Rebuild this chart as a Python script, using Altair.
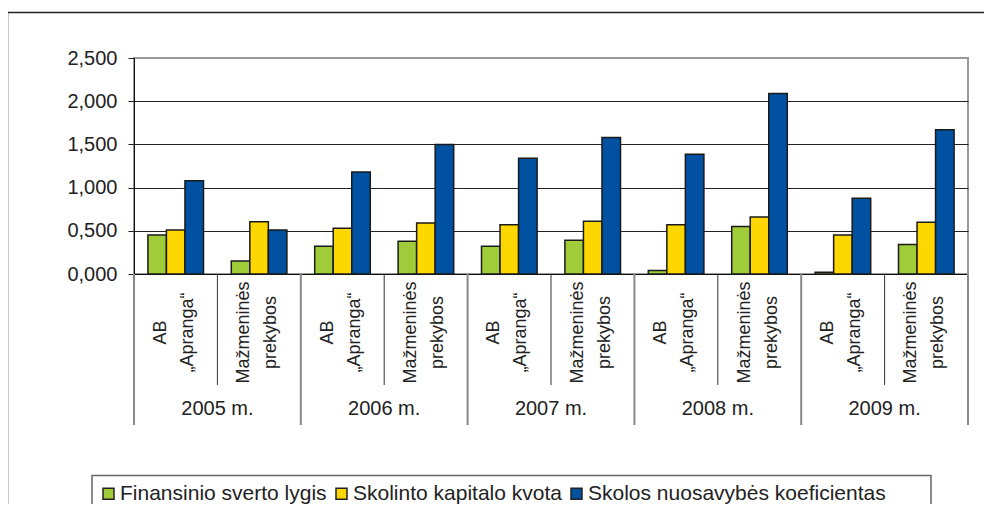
import altair as alt
import pandas as pd

# ---- data ----
years = ["2005 m.", "2006 m.", "2007 m.", "2008 m.", "2009 m."]
companies = ["AB „Apranga“", "Mažmeninės prekybos"]
series = ["Finansinio sverto lygis", "Skolinto kapitalo kvota", "Skolos nuosavybės koeficientas"]
colors = ["#a0cc3a", "#ffd700", "#0051a1"]

finansinio = [0.45, 0.15, 0.32, 0.38, 0.32, 0.39, 0.04, 0.55, 0.02, 0.34]
skolinto = [0.51, 0.605, 0.53, 0.59, 0.57, 0.61, 0.57, 0.66, 0.45, 0.60]
skolos = [1.08, 0.51, 1.18, 1.50, 1.34, 1.58, 1.385, 2.09, 0.876, 1.67]
y_ticks = [0, 0.5, 1.0, 1.5, 2.0, 2.5]

# ---- tables ----
cats = [f"{y}|{c}" for y in years for c in companies]
rows = []
for s, vals in zip(series, [finansinio, skolinto, skolos]):
    for c, v in zip(cats, vals):
        rows.append({"cat": c, "series": s, "value": v})
bars_df = pd.DataFrame(rows)
year_df = pd.DataFrame({"cat": [f"{y}|{companies[0]}" for y in years], "year": years})
inner_df = pd.DataFrame({"cat": [f"{y}|{companies[1]}" for y in years]})
one_df = pd.DataFrame({"a": [0]})

W, H = 834, 216

x_scale = alt.Scale(domain=cats, paddingInner=0, paddingOuter=0)
x_axis = alt.Axis(
    title=None,
    ticks=False,
    domainColor="#111111",
    domainWidth=1,
    labelExpr="isString(datum.label) ? split(split(datum.label, '|')[1], ' ') : ''",
    labelAngle=270,
    labelAlign="center",
    labelBaseline="middle",
    labelPadding=58,
    labelOffset=-15,
    labelLineHeight=27,
    labelFontSize=18,
    labelColor="#222222",
    labelOverlap=False,
    grid=False,
)
y_axis = alt.Axis(
    title=None,
    values=y_ticks,
    labelExpr="replace(format(datum.value, '.3f'), '.', ',')",
    tickSize=6,
    tickColor="#222222",
    domainColor="#111111",
    labelPadding=11,
    labelFontSize=20,
    labelColor="#222222",
    grid=True,
    gridColor=alt.condition("datum.value >= 2.5", alt.value("transparent"), alt.value("#222222")),
    gridWidth=1,
)

bars = alt.Chart(bars_df).mark_bar(stroke="#1a1a1a", strokeWidth=1.5).encode(
    x=alt.X("cat:N", scale=x_scale, axis=x_axis),
    xOffset=alt.XOffset("series:N", sort=series, scale=alt.Scale(domain=series, paddingInner=0, paddingOuter=0.75)),
    y=alt.Y("value:Q", scale=alt.Scale(domain=[0, 2.5], nice=False), axis=y_axis),
    color=alt.Color(
        "series:N",
        scale=alt.Scale(domain=series, range=colors),
        legend=alt.Legend(
            title=None,
            orient="none",
            legendX=-44,
            legendY=417,
            direction="horizontal",
            columns=3,
            symbolType="square",
            symbolSize=121,
            symbolStrokeColor="#222222",
            symbolStrokeWidth=1.5,
            symbolOpacity=1,
            labelFontSize=21,
            labelColor="#222222",
            labelLimit=400,
            labelOffset=1,
            columnPadding=4,
            padding=8,
        ),
    ),
)

inner_rules = alt.Chart(inner_df).mark_rule(color="#333333", strokeWidth=1).encode(
    x=alt.X("cat:N", scale=x_scale, axis=x_axis, bandPosition=0),
    y=alt.value(H),
    y2=alt.value(H + 111),
)

year_rules = alt.Chart(year_df).mark_rule(color="#888888", strokeWidth=2).encode(
    x=alt.X("cat:N", scale=x_scale, axis=x_axis, bandPosition=0),
    y=alt.value(H),
    y2=alt.value(H + 151),
)

end_rule = alt.Chart(one_df).mark_rule(color="#888888", strokeWidth=2).encode(
    x=alt.value(W),
    y=alt.value(H),
    y2=alt.value(H + 151),
)

year_text = alt.Chart(year_df).mark_text(fontSize=20, color="#222222", align="center", baseline="middle").encode(
    x=alt.X("cat:N", scale=x_scale, axis=x_axis, bandPosition=1),
    y=alt.value(H + 135),
    text="year:N",
)

frame = alt.Chart(one_df).mark_rect(fill="transparent", stroke="#222222", strokeWidth=1.5).encode(
    x=alt.value(-126.5),
    x2=alt.value(W + 60),
    y=alt.value(-45.5),
    y2=alt.value(H + 300),
)

legend_box = alt.Chart(one_df).mark_rect(fill="transparent", stroke="#666666", strokeWidth=1.5).encode(
    x=alt.value(-42),
    x2=alt.value(797),
    y=alt.value(417.5),
    y2=alt.value(H + 260),
)

chart = (
    alt.layer(frame, legend_box, bars, inner_rules, year_rules, end_rule, year_text)
    .properties(
        width=W,
        height=H,
        autosize=alt.AutoSizeParams(type="none"),
        padding={"left": 126, "top": 50, "right": 16, "bottom": 230},
    )
    .configure(font="Liberation Sans")
    .configure_view(stroke="#9a9a9a", strokeWidth=2)
)

chart.save("out.html", embed_options={"renderer": "svg", "actions": False})
